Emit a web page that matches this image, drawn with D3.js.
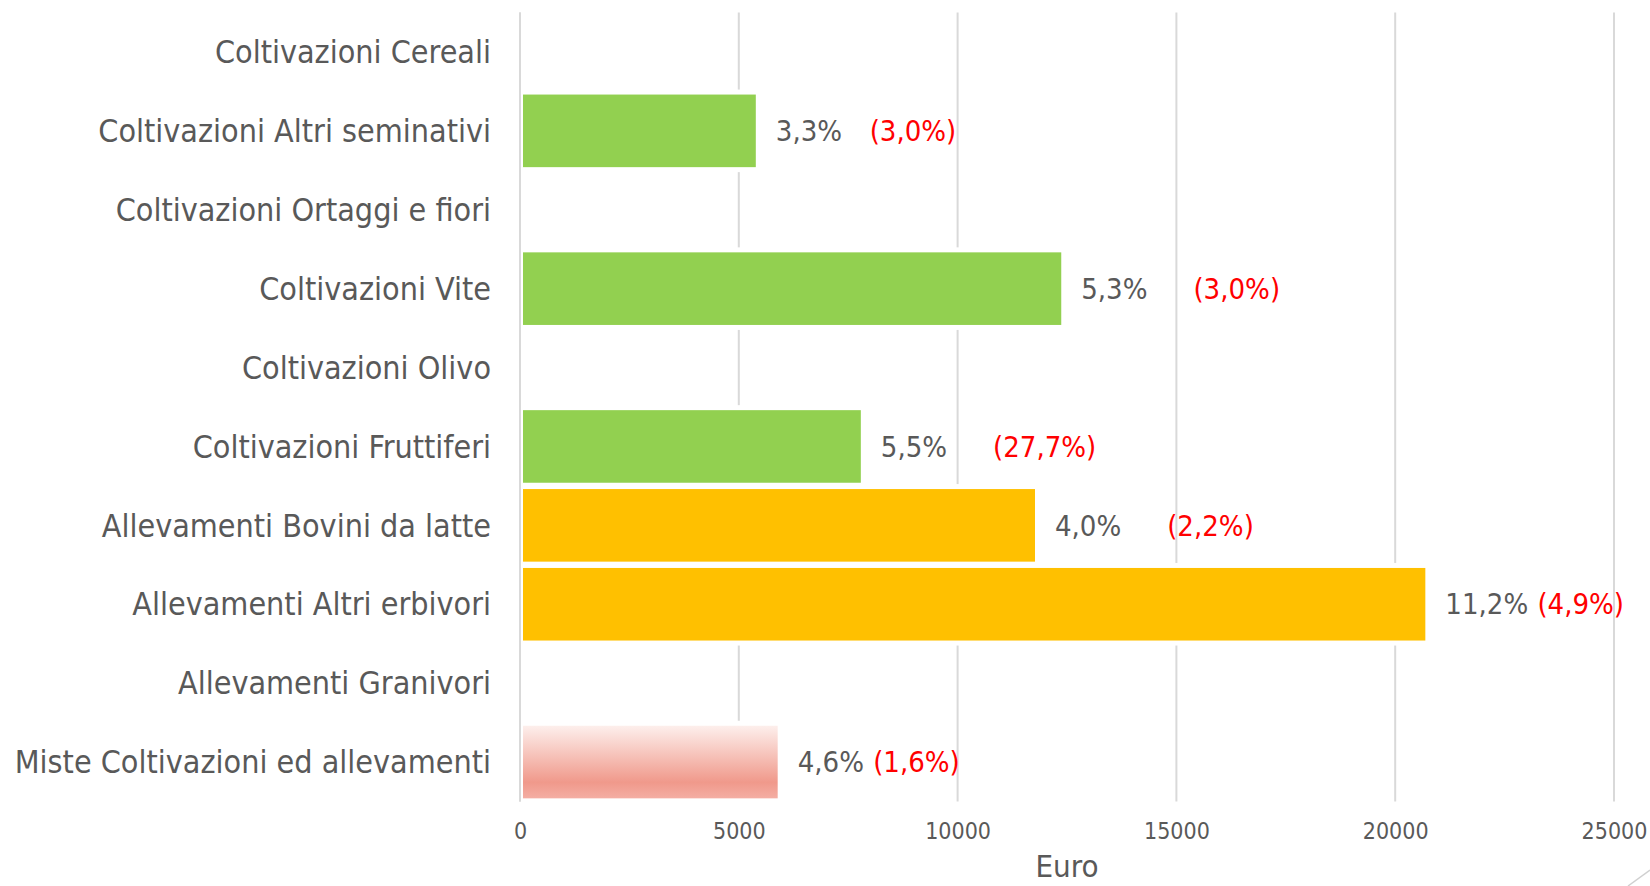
<!DOCTYPE html>
<html>
<head>
<meta charset="utf-8">
<script src="https://cdn.jsdelivr.net/npm/d3@7"></script>
<style>
  body { margin: 0; background: #fff; }
  svg { display: block; }
  text { font-family: "DejaVu Sans Condensed", "DejaVu Sans", sans-serif; }
</style>
</head>
<body>
<svg width="1650" height="886"></svg>
<script>
const categories = [
  "Coltivazioni Cereali",
  "Coltivazioni Altri seminativi",
  "Coltivazioni Ortaggi e fiori",
  "Coltivazioni Vite",
  "Coltivazioni Olivo",
  "Coltivazioni Fruttiferi",
  "Allevamenti Bovini da latte",
  "Allevamenti Altri erbivori",
  "Allevamenti Granivori",
  "Miste Coltivazioni ed allevamenti"
];
const values = [null, 5320, null, 12300, null, 7720, 11700, 20620, null, 5820];
const groups = [null, "colt", null, "colt", null, "colt", "all", "all", null, "miste"];
const pctLabels = [null, "3,3%", null, "5,3%", null, "5,5%", "4,0%", "11,2%", null, "4,6%"];
const gapLabels = [null, "   ", null, "     ", null, "     ", "     ", " ", null, " "];
const redLabels = [null, "(3,0%)", null, "(3,0%)", null, "(27,7%)", "(2,2%)", "(4,9%)", null, "(1,6%)"];
const xTicks = [0, 5000, 10000, 15000, 20000, 25000];

const svg = d3.select("svg");
const width = +svg.attr("width");
const height = +svg.attr("height");

const colors = { colt: "#92d050", all: "#ffc000", miste: "url(#misteGrad)" };

const x = d3.scaleLinear().domain([0, 25000]).range([520, 1614]);
const y = d3.scaleBand().domain(categories).range([12.5, 801.5])
  .paddingInner(0.08).paddingOuter(0.04);

const defs = svg.append("defs");
const grad = defs.append("linearGradient")
  .attr("id", "misteGrad")
  .attr("x1", 0).attr("y1", 0).attr("x2", 0).attr("y2", 1);
grad.append("stop").attr("offset", "0%").attr("stop-color", "#fdefec");
grad.append("stop").attr("offset", "78%").attr("stop-color", "#f0998b");
grad.append("stop").attr("offset", "100%").attr("stop-color", "#f4aea3");

// gridlines
svg.append("g")
  .attr("class", "grid")
  .selectAll("line")
  .data(xTicks)
  .join("line")
    .attr("x1", d => x(d)).attr("x2", d => x(d))
    .attr("y1", 12.5).attr("y2", 801.5)
    .attr("stroke", "#d9d9d9")
    .attr("stroke-width", 2);

const rows = categories.map((c, i) => ({
  cat: c, value: values[i], group: groups[i],
  pct: pctLabels[i], gap: gapLabels[i], red: redLabels[i]
})).filter(d => d.value != null);

// white halo behind bars hides gridlines
svg.append("g")
  .selectAll("rect")
  .data(rows)
  .join("rect")
    .attr("x", x(0) + 2)
    .attr("y", d => y(d.cat) - 5)
    .attr("width", d => x(d.value) - x(0))
    .attr("height", y.bandwidth() + 10)
    .attr("fill", "#fff");

// axis line at zero
svg.append("line")
  .attr("x1", x(0)).attr("x2", x(0))
  .attr("y1", 12.5).attr("y2", 801.5)
  .attr("stroke", "#d9d9d9")
  .attr("stroke-width", 2);

svg.append("g")
  .selectAll("rect")
  .data(rows)
  .join("rect")
    .attr("x", x(0) + 3)
    .attr("y", d => y(d.cat))
    .attr("width", d => x(d.value) - x(0))
    .attr("height", y.bandwidth())
    .attr("fill", d => colors[d.group]);

// data labels
const labels = svg.append("g")
  .selectAll("text")
  .data(rows)
  .join("text")
    .attr("x", d => x(d.value) + 23)
    .attr("y", d => y(d.cat) + y.bandwidth() / 2)
    .attr("dy", "0.35em")
    .attr("font-size", 29)
    .style("white-space", "pre")
    .style("word-spacing", "0.9px");
labels.append("tspan").attr("fill", "#595959").text(d => d.pct + d.gap);
labels.append("tspan").attr("fill", "#ff0000").text(d => d.red);

// category labels
svg.append("g")
  .selectAll("text")
  .data(categories)
  .join("text")
    .attr("x", 491)
    .attr("y", d => y(d) + y.bandwidth() / 2)
    .attr("dy", "0.35em")
    .attr("text-anchor", "end")
    .attr("font-size", 32)
    .attr("fill", "#595959")
    .text(d => d);

// x axis ticks
const xAxis = d3.axisBottom(x).tickValues(xTicks).tickSize(0).tickPadding(0)
  .tickFormat(d3.format("d"));
const axisG = svg.append("g")
  .attr("transform", "translate(0,823)")
  .call(xAxis);
axisG.select(".domain").remove();
axisG.selectAll("text")
  .attr("font-size", 23)
  .attr("fill", "#595959")
  .style("font-family", "\"DejaVu Sans Condensed\", sans-serif");

svg.append("text")
  .attr("x", (x(0) + x(25000)) / 2)
  .attr("y", 877)
  .attr("text-anchor", "middle")
  .attr("font-size", 31)
  .attr("fill", "#595959")
  .text("Euro");

// slide corner decoration
svg.append("line")
  .attr("x1", 1628).attr("y1", 886)
  .attr("x2", 1650).attr("y2", 870)
  .attr("stroke", "#d0d0d0")
  .attr("stroke-width", 1.5);
</script>
</body>
</html>
